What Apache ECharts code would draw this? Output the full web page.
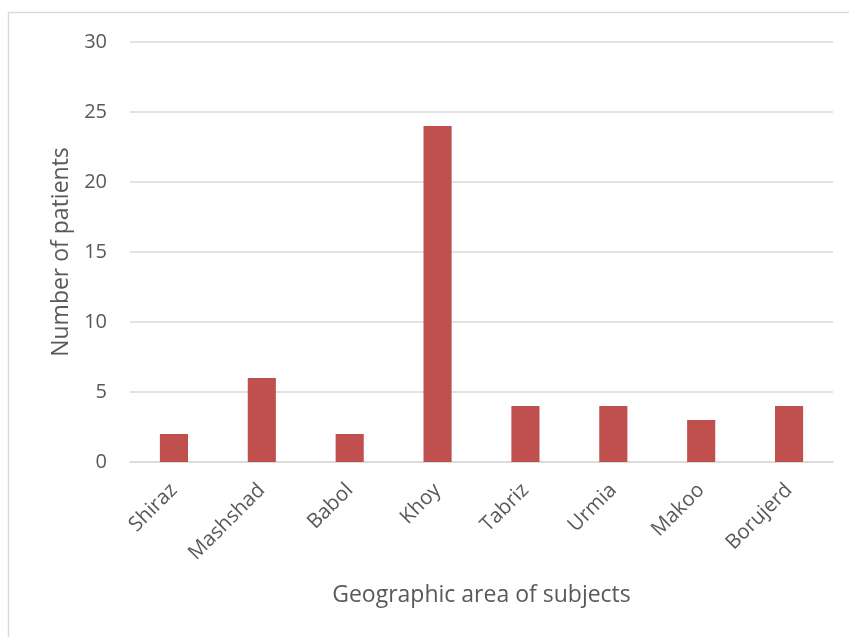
<!DOCTYPE html>
<html>
<head>
<meta charset="utf-8">
<script src="https://cdn.jsdelivr.net/npm/echarts@6/dist/echarts.min.js"></script>
<style>
  html, body { margin: 0; padding: 0; background: #fff; }
  #chart { width: 849px; height: 637px; }
</style>
</head>
<body>
<div id="chart"></div>
<script>
// Patients per city
const cities = ['Shiraz', 'Mashshad', 'Babol', 'Khoy', 'Tabriz', 'Urmia', 'Makoo', 'Borujerd'];
const patients = [2, 6, 2, 24, 4, 4, 3, 4];
const yTicks = { min: 0, max: 30, step: 5 };

const FONT = '"Open Sans", "Noto Sans", sans-serif';
const TEXT = '#595959';
const GRID = '#d9d9d9';

const chart = echarts.init(document.getElementById('chart'), null, { renderer: 'canvas' });
chart.setOption({
  backgroundColor: '#ffffff',
  animation: false,
  graphic: [{
    type: 'rect',
    shape: { x: 8.5, y: 12.5, width: 900, height: 700 },
    style: { fill: 'none', stroke: GRID, lineWidth: 1.5 },
    silent: true
  }],
  grid: { left: 130, right: 16, top: 42, bottom: 175 },
  xAxis: {
    type: 'category',
    data: cities,
    name: 'Geographic area of subjects',
    nameLocation: 'middle',
    nameGap: 122,
    nameTextStyle: { color: TEXT, fontFamily: FONT, fontSize: 23 },
    axisLine: { lineStyle: { color: GRID, width: 1.5 } },
    axisTick: { show: false },
    axisLabel: { rotate: 45, margin: 25, color: TEXT, fontFamily: FONT, fontSize: 20.5 }
  },
  yAxis: {
    type: 'value',
    min: yTicks.min,
    max: yTicks.max,
    interval: yTicks.step,
    name: 'Number of patients',
    nameLocation: 'middle',
    nameGap: 56,
    nameTextStyle: { color: TEXT, fontFamily: FONT, fontSize: 23 },
    axisLine: { show: false },
    axisTick: { show: false },
    axisLabel: { margin: 23, color: TEXT, fontFamily: FONT, fontSize: 20 },
    splitLine: { lineStyle: { color: GRID, width: 1.5 } }
  },
  series: [{
    type: 'bar',
    data: patients,
    barWidth: '32%',
    itemStyle: { color: '#c0504d' }
  }]
});
</script>
</body>
</html>
